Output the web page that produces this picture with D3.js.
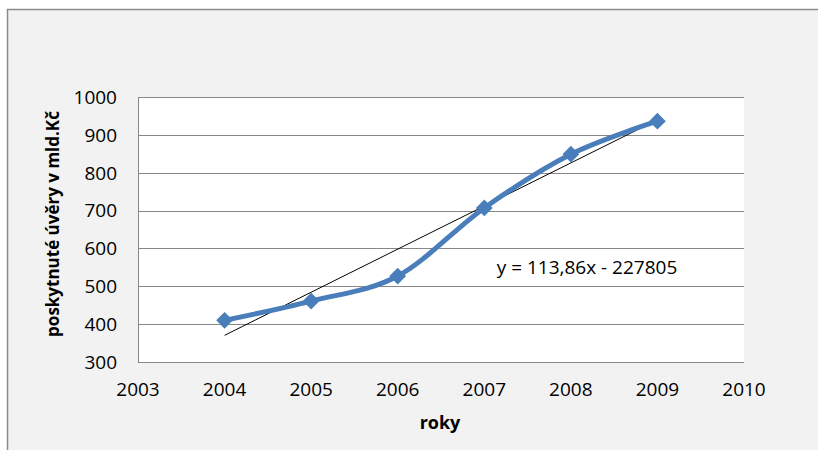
<!DOCTYPE html>
<html>
<head>
<meta charset="utf-8">
<script src="https://cdn.jsdelivr.net/npm/d3@7"></script>
<style>
  html, body { margin: 0; padding: 0; background: #ffffff; }
  svg { display: block; }
  text { font-family: "Open Sans", "Liberation Sans", sans-serif; fill: #000; }
</style>
</head>
<body>
<svg id="chart" width="818" height="450"></svg>
<script>
// Poskytnuté úvěry (mld. Kč) podle roku
const years = [2004, 2005, 2006, 2007, 2008, 2009];
const loans = [410, 461, 527, 707, 849, 936];

// Lineární trend (koeficienty z rovnice v grafu)
const trendSlope = 113.86;
const trendIntercept = -227805;
const trendLabel = "y = 113,86x - 227805";

const xTicks = [2003, 2004, 2005, 2006, 2007, 2008, 2009, 2010];
const yTicks = [300, 400, 500, 600, 700, 800, 900, 1000];

const xTitle = "roky";
const yTitle = "poskytnuté úvěry v mld.Kč";

const svg = d3.select("#chart");

// Chart frame
svg.append("rect")
  .attr("x", 7.5).attr("y", 9.5)
  .attr("width", 830).attr("height", 460)
  .attr("fill", "#f2f2f2")
  .attr("stroke", "#8c8c8c")
  .attr("stroke-width", 1.5);

const plot = { left: 138, right: 744, top: 97, bottom: 362 };

const x = d3.scaleLinear().domain([2003, 2010]).range([plot.left, plot.right]);
const y = d3.scaleLinear().domain([300, 1000]).range([plot.bottom, plot.top]);

// Plot area
svg.append("rect")
  .attr("x", plot.left).attr("y", plot.top)
  .attr("width", plot.right - plot.left).attr("height", plot.bottom - plot.top)
  .attr("fill", "#ffffff");

// Horizontal gridlines
svg.append("g")
  .selectAll("line")
  .data(yTicks)
  .join("line")
  .attr("x1", plot.left).attr("x2", plot.right)
  .attr("y1", d => Math.round(y(d)) + 0.5).attr("y2", d => Math.round(y(d)) + 0.5)
  .attr("stroke", "#878787")
  .attr("stroke-width", 1);

// Vertical axis line
svg.append("line")
  .attr("x1", plot.left + 0.5).attr("x2", plot.left + 0.5)
  .attr("y1", plot.top).attr("y2", plot.bottom + 0.5)
  .attr("stroke", "#878787");

// Y tick labels
svg.append("g")
  .selectAll("text")
  .data(yTicks)
  .join("text")
  .attr("x", 117)
  .attr("y", d => y(d))
  .attr("dy", "0.36em")
  .attr("text-anchor", "end")
  .style("font-size", "19px")
  .text(d => d);

// X tick labels
svg.append("g")
  .selectAll("text")
  .data(xTicks)
  .join("text")
  .attr("x", d => x(d))
  .attr("y", 396)
  .attr("text-anchor", "middle")
  .style("font-size", "19px")
  .text(d => d);

// Axis titles
svg.append("text")
  .attr("x", 440).attr("y", 429)
  .attr("text-anchor", "middle")
  .style("font-size", "18px")
  .style("font-weight", "bold")
  .text(xTitle);

svg.append("text")
  .attr("transform", "translate(59,224) rotate(-90)")
  .attr("text-anchor", "middle")
  .style("font-size", "17px")
  .style("font-weight", "bold")
  .text(yTitle);

// Trend line
const trendX = [d3.min(years), d3.max(years)];
svg.append("line")
  .attr("x1", x(trendX[0])).attr("y1", y(trendSlope * trendX[0] + trendIntercept))
  .attr("x2", x(trendX[1])).attr("y2", y(trendSlope * trendX[1] + trendIntercept))
  .attr("stroke", "#000")
  .attr("stroke-width", 1);

// Smoothed series line
const pts = years.map((yr, i) => [yr, loans[i]]);
const line = d3.line()
  .x(d => x(d[0]))
  .y(d => y(d[1]))
  .curve(d3.curveCardinal.tension(0));

svg.append("path")
  .attr("d", line(pts))
  .attr("fill", "none")
  .attr("stroke", "#4a7ebb")
  .attr("stroke-width", 5)
  .attr("stroke-linejoin", "round")
  .attr("stroke-linecap", "round");

// Diamond markers
svg.append("g")
  .selectAll("path")
  .data(pts)
  .join("path")
  .attr("transform", d => `translate(${x(d[0])},${y(d[1])}) rotate(45)`)
  .attr("d", d3.symbol().type(d3.symbolSquare).size(140))
  .attr("fill", "#4a7ebb");

// Trend equation
svg.append("text")
  .attr("x", 587).attr("y", 274)
  .attr("text-anchor", "middle")
  .style("font-size", "19px")
  .text(trendLabel);
</script>
</body>
</html>
